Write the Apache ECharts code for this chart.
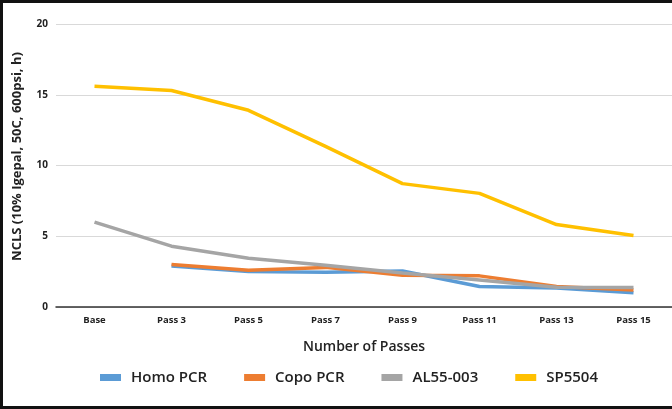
<!DOCTYPE html>
<html>
<head>
<meta charset="utf-8">
<script src="https://cdn.jsdelivr.net/npm/echarts@6/dist/echarts.min.js"></script>
<style>
  html, body { margin: 0; padding: 0; background: #fff; }
  #wrap { position: relative; width: 672px; height: 409px; }
  #chart1 { width: 672px; height: 409px; }
  #frame {
    position: absolute; left: 0; top: 0; width: 672px; height: 409px;
    box-sizing: border-box; border: 3px solid #111; border-right: none;
    pointer-events: none;
  }
</style>
</head>
<body>
<div id="wrap">
  <div id="chart1"></div>
  <div id="frame"></div>
</div>
<script>
const passes = ['Base', 'Pass 3', 'Pass 5', 'Pass 7', 'Pass 9', 'Pass 11', 'Pass 13', 'Pass 15']
const homoPCR = [null, 2.9, 2.5, 2.45, 2.55, 1.45, 1.35, 1.0]
const copoPCR = [null, 3.0, 2.6, 2.8, 2.25, 2.2, 1.45, 1.2]
const al55003 = [6.0, 4.3, 3.45, 2.95, 2.4, 1.9, 1.4, 1.38]
const sp5504 = [15.6, 15.3, 13.9, 11.35, 8.72, 8.03, 5.83, 5.05]

const fontName = '"Open Sans", "Noto Sans", sans-serif'

const getOptionChart1 = () => {
  const mkLine = (name, data, color) => ({
    name: name,
    type: 'line',
    data: data,
    symbol: 'none',
    connectNulls: false,
    lineStyle: { width: 3.5, color: color },
    itemStyle: { color: color }
  })

  return {
    animation: false,
    textStyle: { fontFamily: fontName },
    legend: {
      left: 95,
      top: 365,
      itemWidth: 21,
      itemHeight: 7,
      itemGap: 37,
      icon: 'rect',
      textStyle: { fontSize: 15, fontWeight: 600, color: '#222', fontFamily: fontName, padding: [0, 0, 0, 5] },
      data: ['Homo PCR', 'Copo PCR', 'AL55-003', 'SP5504']
    },
    grid: {
      left: 56,
      right: -19,
      top: 24,
      bottom: 102
    },
    xAxis: {
      type: 'category',
      boundaryGap: true,
      data: passes,
      name: 'Number of Passes',
      nameLocation: 'middle',
      nameGap: 33,
      nameTextStyle: { fontSize: 14, fontWeight: 600, color: '#222' },
      axisLine: { lineStyle: { color: '#333', width: 1.5 } },
      axisTick: { show: false },
      axisLabel: { fontSize: 9.5, fontWeight: 700, color: '#222', margin: 8 }
    },
    yAxis: {
      type: 'value',
      min: 0,
      max: 20,
      interval: 5,
      name: 'NCLS (10% Igepal, 50C, 600psi, h)',
      nameLocation: 'middle',
      nameGap: 32,
      nameTextStyle: { fontSize: 13, fontWeight: 700, color: '#222', padding: [0, 0, 0, 18] },
      axisLine: { show: false },
      axisTick: { show: false },
      axisLabel: { fontSize: 10, fontWeight: 700, color: '#222', margin: 8 },
      splitLine: { lineStyle: { color: '#d9d9d9', width: 1.2 } }
    },
    series: [
      mkLine('Homo PCR', homoPCR, '#5b9bd5'),
      mkLine('Copo PCR', copoPCR, '#ed7d31'),
      mkLine('AL55-003', al55003, '#a5a5a5'),
      mkLine('SP5504', sp5504, '#ffc000')
    ]
  }
}

const chart1 = echarts.init(document.getElementById('chart1'))
chart1.setOption(getOptionChart1())
</script>
</body>
</html>
